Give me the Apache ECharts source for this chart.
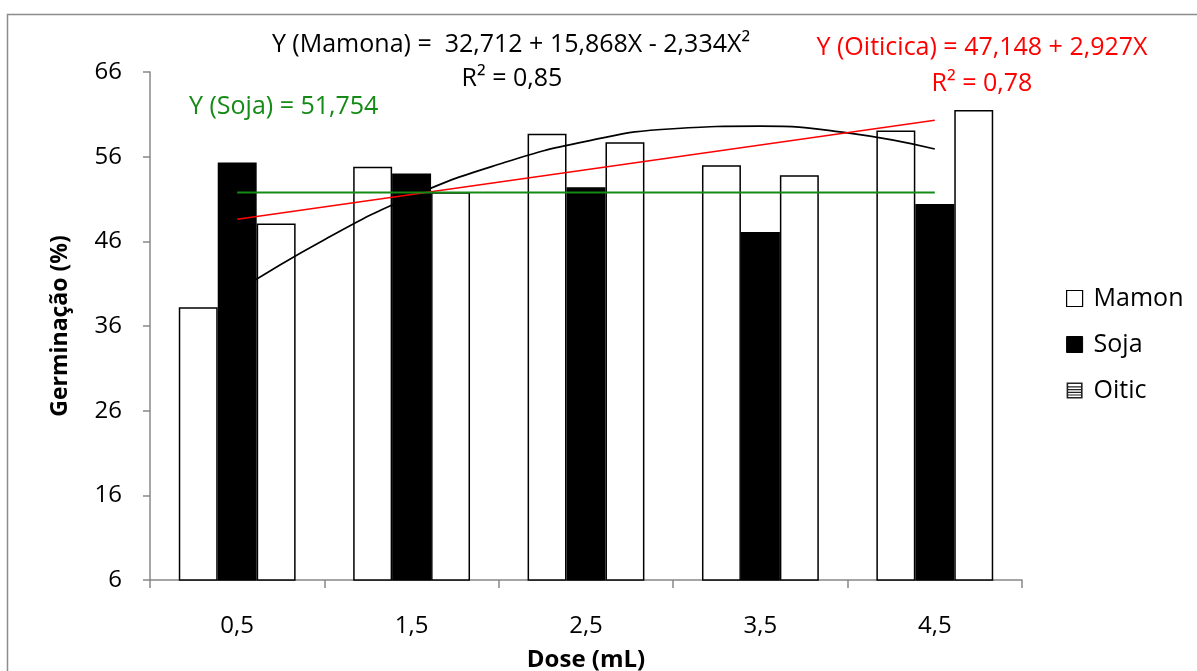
<!DOCTYPE html>
<html>
<head>
<meta charset="utf-8">
<script src="https://cdn.jsdelivr.net/npm/echarts@6/dist/echarts.min.js"></script>
<style>
html,body{margin:0;padding:0;background:#fff;}
#chart{width:1197px;height:671px;}
</style>
</head>
<body>
<div id="chart"></div>
<script>
// ---- data ----
var doses = ['0,5', '1,5', '2,5', '3,5', '4,5'];
var mamon = [38.2, 54.8, 58.7, 55.0, 59.1];
var soja = [55.3, 54.0, 52.4, 47.1, 50.4];
var oitic = [48.1, 51.8, 57.7, 53.8, 61.5];
// trend lines (dose X, value)
var mamonTrendX = [0.5, 1.0, 1.5, 2.0, 2.5, 3.0, 3.5, 4.0, 4.5];
var mamonTrendY = [40.1, 46.2, 51.3, 55.1, 57.8, 59.3, 59.6, 58.8, 56.9];
var oiticTrendX = [0.5, 4.5];
var oiticTrendY = [48.6, 60.3];
var sojaTrendX = [0.5, 4.5];
var sojaTrendY = [51.754, 51.754];
var yTicks = [6, 16, 26, 36, 46, 56, 66];

function pairs(xs, ys) { return xs.map(function (x, i) { return [x, ys[i]]; }); }

var FONT = '"Open Sans", "DejaVu Sans", sans-serif';
var chart = echarts.init(document.getElementById('chart'), null, {renderer: 'canvas'});

var stripeIcon = 'path://M0,0H10V1H0Z M0,9H10V10H0Z M0,0H1V10H0Z M9,0H10V10H9Z M1,2.4H9V3.1H1Z M1,4.1H9V4.8H1Z M1,5.8H9V6.5H1Z M1,7.5H9V8.2H1Z';

var option = {
  backgroundColor: '#fff',
  animation: false,
  textStyle: {fontFamily: FONT},
  grid: {left: 150, right: 175, top: 72, bottom: 91, outerBoundsMode: 'none', containLabel: false},
  legend: {
    orient: 'vertical',
    left: 1061,
    top: 281,
    itemGap: 21,
    itemWidth: 16,
    itemHeight: 16,
    textStyle: {fontSize: 25, color: '#000', fontFamily: FONT, padding: [0, 0, 0, 6]},
    data: [
      {name: 'Mamon', icon: 'rect', itemStyle: {color: '#fff', borderColor: '#000', borderWidth: 1.2}},
      {name: 'Soja', icon: 'rect', itemStyle: {color: '#000', borderColor: '#000', borderWidth: 1}},
      {name: 'Oitic', icon: stripeIcon, itemStyle: {color: '#222', borderWidth: 0}}
    ]
  },
  xAxis: [
    {
      type: 'category',
      data: doses,
      name: 'Dose (mL)',
      nameLocation: 'middle',
      nameGap: 68,
      nameTextStyle: {fontSize: 24, fontWeight: 'bold', color: '#000', fontFamily: FONT},
      axisLine: {lineStyle: {color: '#888', width: 1.5}},
      axisTick: {show: true, length: 8, lineStyle: {color: '#888', width: 1.5}},
      axisLabel: {fontSize: 24, color: '#000', margin: 34, fontFamily: FONT},
      splitLine: {show: false}
    },
    {
      type: 'value',
      min: 0,
      max: 5,
      show: false
    }
  ],
  yAxis: {
    type: 'value',
    min: 6,
    max: 66,
    interval: 10,
    name: 'Germinação (%)',
    nameLocation: 'middle',
    nameGap: 78,
    nameTextStyle: {fontSize: 23, fontWeight: 'bold', color: '#000', fontFamily: FONT},
    axisLine: {show: true, lineStyle: {color: '#888', width: 1.5}},
    axisTick: {show: true, length: 7, lineStyle: {color: '#888', width: 1.5}},
    axisLabel: {fontSize: 24, color: '#000', margin: 28, fontFamily: FONT,
      formatter: function (v) { return yTicks.indexOf(v) >= 0 ? String(v) : ''; }},
    splitLine: {show: false}
  },
  series: [
    {
      name: 'Mamon', type: 'bar', data: mamon, barGap: '0%', barCategoryGap: '33%',
      itemStyle: {color: '#fff', borderColor: '#000', borderWidth: 1.5}, z: 2
    },
    {
      name: 'Soja', type: 'bar', data: soja, barGap: '0%', barCategoryGap: '33%',
      itemStyle: {color: '#000', borderColor: '#000', borderWidth: 1.5}, z: 2
    },
    {
      name: 'Oitic', type: 'bar', data: oitic, barGap: '0%', barCategoryGap: '33%',
      itemStyle: {color: '#fff', borderColor: '#000', borderWidth: 1.5}, z: 2
    },
    {
      name: 'trendMamon', type: 'line', xAxisIndex: 1, data: pairs(mamonTrendX, mamonTrendY),
      smooth: true, showSymbol: false, lineStyle: {color: '#000', width: 1.7}, z: 5, silent: true
    },
    {
      name: 'trendOitic', type: 'line', xAxisIndex: 1, data: pairs(oiticTrendX, oiticTrendY),
      showSymbol: false, lineStyle: {color: '#ff0000', width: 1.6}, z: 5, silent: true
    },
    {
      name: 'trendSoja', type: 'line', xAxisIndex: 1, data: pairs(sojaTrendX, sojaTrendY),
      showSymbol: false, lineStyle: {color: '#168a16', width: 2}, z: 5, silent: true
    }
  ],
  graphic: [
    {type: 'rect', left: 5, top: 12, shape: {width: 1250, height: 700},
      style: {fill: 'none', stroke: '#8c8c8c', lineWidth: 1.5}, silent: true, z: -1},
    {type: 'text', x: 511, y: 45, style: {text: 'Y (Mamona) =  32,712 + 15,868X - 2,334X²', font: '25px ' + FONT, fill: '#000', align: 'center', verticalAlign: 'middle'}},
    {type: 'text', x: 512, y: 79, style: {text: 'R² = 0,85', font: '25px ' + FONT, fill: '#000', align: 'center', verticalAlign: 'middle'}},
    {type: 'text', x: 982, y: 48, style: {text: 'Y (Oiticica) = 47,148 + 2,927X', font: '25px ' + FONT, fill: '#ff0000', align: 'center', verticalAlign: 'middle'}},
    {type: 'text', x: 982, y: 84, style: {text: 'R² = 0,78', font: '25px ' + FONT, fill: '#ff0000', align: 'center', verticalAlign: 'middle'}},
    {type: 'text', x: 189, y: 107, style: {text: 'Y (Soja) = 51,754', font: '25px ' + FONT, fill: '#168a16', align: 'left', verticalAlign: 'middle'}}
  ]
};
chart.setOption(option);
</script>
</body>
</html>
